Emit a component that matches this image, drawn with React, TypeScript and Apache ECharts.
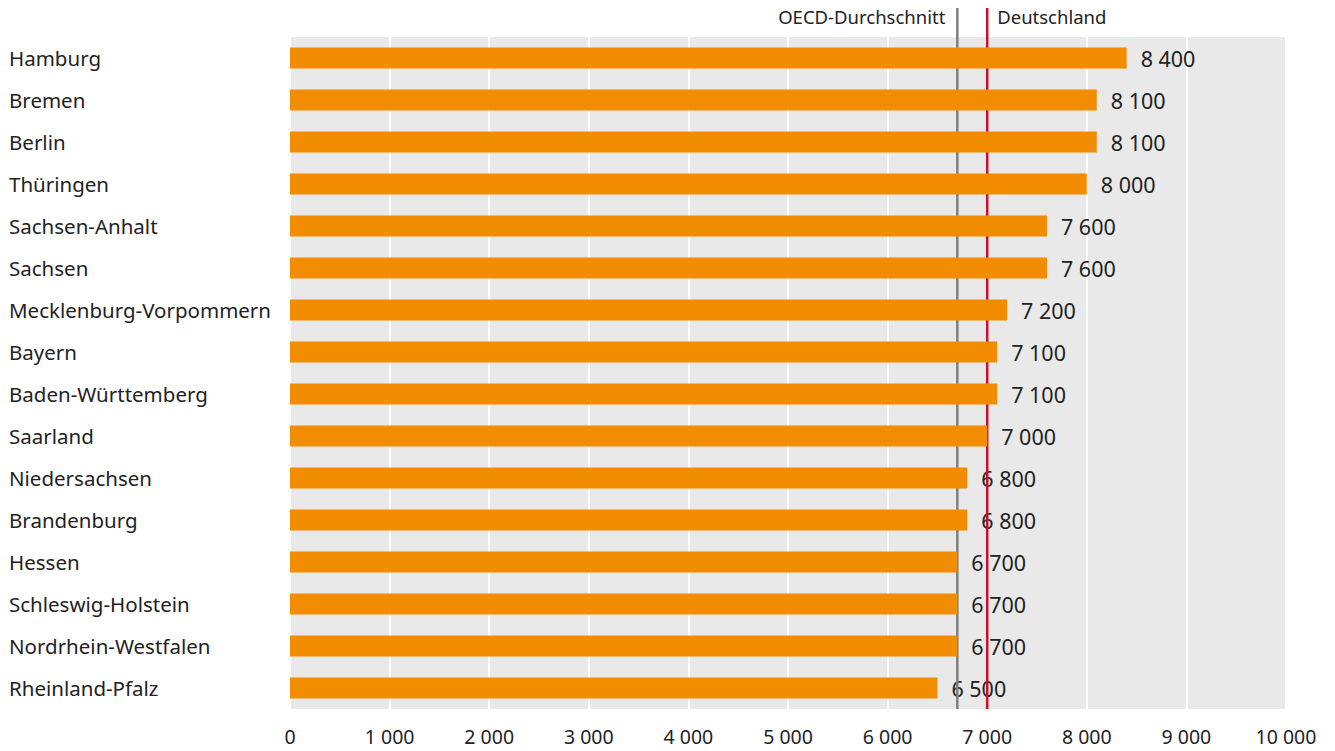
import React, { useEffect, useRef } from "react";
import * as echarts from "echarts";

const categories = [
  "Hamburg",
  "Bremen",
  "Berlin",
  "Thüringen",
  "Sachsen-Anhalt",
  "Sachsen",
  "Mecklenburg-Vorpommern",
  "Bayern",
  "Baden-Württemberg",
  "Saarland",
  "Niedersachsen",
  "Brandenburg",
  "Hessen",
  "Schleswig-Holstein",
  "Nordrhein-Westfalen",
  "Rheinland-Pfalz",
];
const values = [8400, 8100, 8100, 8000, 7600, 7600, 7200, 7100, 7100, 7000, 6800, 6800, 6700, 6700, 6700, 6500];
const refNames = ["OECD-Durchschnitt", "Deutschland"];
const refValues = [6700, 7000];
const refColors = ["#7f7f7f", "#c8102e"];

const FONT = "'Noto Sans', sans-serif";
const fmt = (v: number) => {
  const s = String(Math.round(v));
  return s.replace(/\B(?=(\d{3})+(?!\d))/g, " ");
};

export default function App() {
  const ref = useRef<HTMLDivElement>(null);
  useEffect(() => {
    const chart = echarts.init(ref.current!, null, { renderer: "svg" });
    chart.setOption({
      animation: false,
      grid: {
        left: 290,
        right: 49,
        top: 37,
        bottom: 42,
        show: true,
        backgroundColor: "#e8e9e8",
        borderWidth: 0,
      },
      xAxis: {
        type: "value",
        min: 0,
        max: 10000,
        interval: 1000,
        axisLine: { show: false },
        axisTick: { show: false },
        splitLine: { show: true, lineStyle: { color: "#ffffff", width: 2 } },
        axisLabel: {
          formatter: (v: number) => fmt(v),
          color: "#222",
          fontFamily: FONT,
          fontSize: 19.5,
          margin: 17,
        },
      },
      yAxis: {
        type: "category",
        data: categories,
        inverse: true,
        axisLine: { show: false },
        axisTick: { show: false },
        splitLine: { show: false },
        axisLabel: {
          align: "left",
          margin: 281,
          color: "#222",
          fontFamily: FONT,
          fontSize: 20.5,
        },
      },
      series: [
        {
          type: "bar",
          data: values,
          z: 1,
          barWidth: 21,
          barGap: "-100%",
          itemStyle: { color: "rgba(0,0,0,0)" },
          label: {
            show: true,
            position: "right",
            distance: 14,
            formatter: (p: any) => fmt(p.value),
            color: "#222",
            fontFamily: FONT,
            fontSize: 21.5,
          },
          silent: true,
        },
        {
          type: "custom",
          z: 2,
          data: refValues.map((v, i) => [v, i]),
          encode: { x: 0, y: 1 },
          renderItem: (params: any, api: any) => {
            const cs = params.coordSys;
            const i = params.dataIndex;
            const x = api.coord([api.value(0), 0])[0];
            const top = cs.y - 29;
            const bottom = cs.y + cs.height;
            const isLeft = i === 0;
            return {
              type: "group",
              children: [
                {
                  type: "line",
                  shape: { x1: x, y1: top, x2: x, y2: bottom },
                  style: { stroke: refColors[i], lineWidth: 2.5 },
                },
                {
                  type: "text",
                  x: isLeft ? x - 12 : x + 10,
                  y: top + 8,
                  style: {
                    text: refNames[i],
                    align: isLeft ? "right" : "left",
                    verticalAlign: "middle",
                    fill: "#222",
                    fontFamily: FONT,
                    fontSize: 18.5,
                  },
                },
              ],
            };
          },
        },
        {
          type: "bar",
          data: values,
          z: 3,
          barWidth: 21,
          barGap: "-100%",
          itemStyle: { color: "#f28c00" },
        },
      ],
    });
    return () => chart.dispose();
  }, []);
  return <div ref={ref} style={{ width: 1335, height: 751, position: "absolute", left: 0, top: 0 }} />;
}
